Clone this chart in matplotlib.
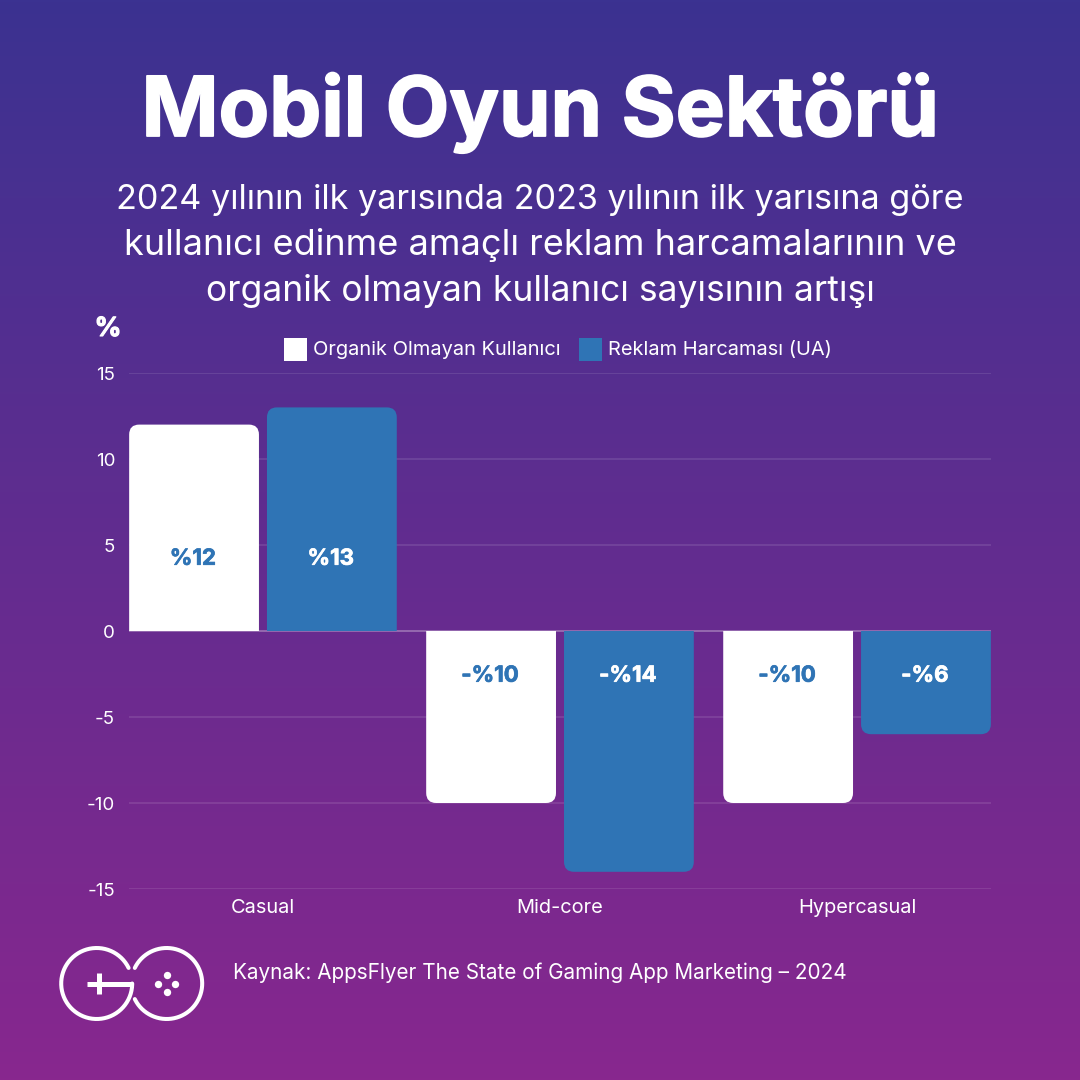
import numpy as np
import matplotlib
matplotlib.use('Agg')
import matplotlib.pyplot as plt
import matplotlib.patheffects as pe
from matplotlib.path import Path
from matplotlib.patches import PathPatch, Rectangle

plt.rcParams['font.family'] = ['Inter', 'DejaVu Sans']

categories = ['Casual', 'Mid-core', 'Hypercasual']
users = [12, -10, -10]
spend = [13, -14, -6]
user_labels = ['%12', '-%10', '-%10']
spend_labels = ['%13', '-%14', '-%6']
y_ticks = [-15, -10, -5, 0, 5, 10, 15]
y_tick_labels = ['-15', '-10', '-5', '0', '5', '10', '15']

BLUE = '#2f74b5'
TOP = np.array([0x3b, 0x32, 0x91]) / 255
BOTTOM = np.array([0x88, 0x27, 0x8e]) / 255

fig = plt.figure(figsize=(10.8, 10.8), dpi=100)

# gradient background
bg = fig.add_axes([0, 0, 1, 1], zorder=0)
t = np.linspace(0, 1, 540)[:, None, None]
bg.imshow(TOP + (BOTTOM - TOP) * t, aspect='auto', extent=[0, 1080, 1080, 0])
bg.set_xlim(0, 1080)
bg.set_ylim(1080, 0)
bg.axis('off')

# plot area: x 129-991, y 373-889 in pixels
ax = fig.add_axes([129 / 1080, 1 - 889 / 1080, 862 / 1080, 516 / 1080], zorder=1)
ax.patch.set_alpha(0)
ax.set_xlim(-0.451, 2.451)
ax.set_ylim(-15, 15)
for s in ax.spines.values():
    s.set_visible(False)


def rounded_bar(x, w, val, color):
    # only the free end of the bar is rounded
    rx = 10 / 297
    ry = 10 / 17.2 * np.sign(val)
    x0, x1 = x - w / 2, x + w / 2
    verts = [(x0, 0), (x0, val - ry), (x0, val), (x0 + rx, val), (x1 - rx, val),
             (x1, val), (x1, val - ry), (x1, 0), (x0, 0)]
    codes = [Path.MOVETO, Path.LINETO, Path.CURVE3, Path.CURVE3, Path.LINETO,
             Path.CURVE3, Path.CURVE3, Path.LINETO, Path.CLOSEPOLY]
    ax.add_patch(PathPatch(Path(verts, codes), facecolor=color, edgecolor='none', zorder=3))


bar_w = 0.437
offset = 0.232
for i in range(len(categories)):
    rounded_bar(i - offset, bar_w, users[i], 'white')
    rounded_bar(i + offset, bar_w, spend[i], BLUE)
    yu = 4.2 if users[i] > 0 else -2.6
    ys = 4.2 if spend[i] > 0 else -2.6
    t1 = ax.text(i - offset - 0.004, yu, user_labels[i], color=BLUE, fontsize=16, fontweight='bold',
                 ha='center', va='center', zorder=4)
    t2 = ax.text(i + offset - 0.004, ys, spend_labels[i], color='white', fontsize=16, fontweight='bold',
                 ha='center', va='center', zorder=4)
    t1.set_path_effects([pe.withStroke(linewidth=0.5, foreground=BLUE)])
    t2.set_path_effects([pe.withStroke(linewidth=0.5, foreground='white')])

ax.set_yticks(y_ticks)
ax.set_yticklabels(y_tick_labels, color='white', fontsize=13.5)
ax.set_xticks(range(len(categories)))
ax.set_xticklabels(categories, color='white', fontsize=14.4)
ax.tick_params(axis='both', length=0)
ax.tick_params(axis='y', pad=10)
ax.tick_params(axis='x', pad=7)
ax.grid(axis='y', color='white', alpha=0.12, linewidth=1.2)
ax.axhline(0, color='white', alpha=0.25, linewidth=1.2, zorder=2)
ax.set_axisbelow(True)

# overlay in pixel coordinates for title, legend and logo
title = bg.text(540, 136, 'Mobil Oyun Sektörü', color='white', fontsize=59.5, fontweight='bold',
                ha='center', va='baseline')
title.set_path_effects([pe.withStroke(linewidth=1.3, foreground='white')])
subtitle = ['2024 yılının ilk yarısında 2023 yılının ilk yarısına göre',
            'kullanıcı edinme amaçlı reklam harcamalarının ve',
            'organik olmayan kullanıcı sayısının artışı']
subtitle_sizes = [24.6, 26, 25.5]
for line, y, size in zip(subtitle, [200, 245, 291], subtitle_sizes):
    bg.text(540, y, line, color='white', fontsize=size, ha='center', va='center')
pct = bg.text(108, 329, '%', color='white', fontsize=19, fontweight='bold', ha='center', va='center')
pct.set_path_effects([pe.withStroke(linewidth=0.8, foreground='white')])

bg.add_patch(Rectangle((284, 338), 23, 23, facecolor='white', edgecolor='none'))
bg.text(313, 350, 'Organik Olmayan Kullanıcı', color='white', fontsize=14.4, ha='left', va='center')
bg.add_patch(Rectangle((579, 338), 23, 23, facecolor=BLUE, edgecolor='none'))
bg.text(608, 350, 'Reklam Harcaması (UA)', color='white', fontsize=14.4, ha='left', va='center')

bg.text(233, 973, 'Kaynak: AppsFlyer The State of Gaming App Marketing – 2024', color='white',
        fontsize=14.9, ha='left', va='center')

# logo
cy = 983.5
r = 35.5
lw = 2.9
a = np.radians(np.linspace(-26, -360, 200))
bg.plot(96.7 + r * np.cos(a), cy + r * np.sin(a), color='white', lw=lw, solid_capstyle='round')
a = np.radians(np.linspace(-154, 154, 200))
bg.plot(166.7 + r * np.cos(a), cy + r * np.sin(a), color='white', lw=lw, solid_capstyle='round')
bg.plot([87, 132], [983.5, 983.5], color='white', lw=3.6, solid_capstyle='butt')
bg.plot([98.5, 98.5], [973, 994], color='white', lw=3.6, solid_capstyle='butt')
bg.scatter([166.7, 158.3, 175, 166.7], [975, 983.5, 983.5, 992], s=28, color='white', linewidths=0)

fig.savefig('out.png', dpi=100)
